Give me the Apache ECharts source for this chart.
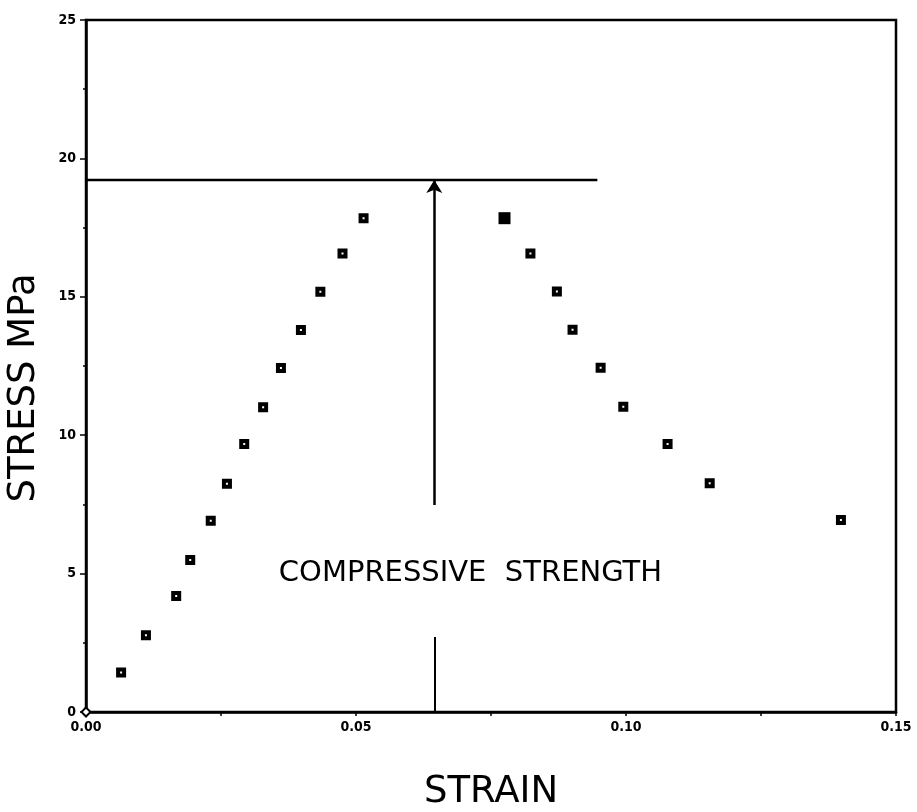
<!DOCTYPE html>
<html>
<head>
<meta charset="utf-8">
<script src="https://cdn.jsdelivr.net/npm/echarts@6/dist/echarts.min.js"></script>
<style>
html,body{margin:0;padding:0;background:#fff;}
#chart{width:917px;height:812px;}
</style>
</head>
<body>
<div id="chart"></div>
<script>
// ---- data ----
var risingStrain = [0.0065, 0.0111, 0.0167, 0.0193, 0.0231, 0.0261, 0.0293, 0.0328, 0.0361, 0.0398, 0.0434, 0.0475, 0.0514];
var risingStress = [1.43, 2.77, 4.19, 5.49, 6.91, 8.25, 9.68, 11.01, 12.43, 13.80, 15.18, 16.56, 17.84];
var fallingStrain = [0.0775, 0.0823, 0.0872, 0.0901, 0.0953, 0.0995, 0.1077, 0.1155, 0.1398];
var fallingStress = [17.84, 16.56, 15.19, 13.81, 12.44, 11.03, 9.68, 8.26, 6.94];
var originPoint = [0, 0];
var strengthLevel = 19.22;      // compressive strength (MPa)
var strengthLineEnd = 0.0947;   // horizontal line extends to this strain
var arrowStrain = 0.0645;
var arrowFrom = 7.48;
var lowerLineTop = 2.71;
var annotationText = 'COMPRESSIVE  STRENGTH';
var annotationAt = [0.0712, 5.02];
var xTicks = ['0.00', '0.05', '0.10', '0.15'];
var yTicks = [0, 5, 10, 15, 20, 25];

function pairs(xs, ys){ return xs.map(function(x,i){ return [x, ys[i]]; }); }

var chart = echarts.init(document.getElementById('chart'), null, {renderer:'canvas'});
var tickFont = {fontFamily:'DejaVu Sans Condensed, DejaVu Sans', fontWeight:'bold', fontSize:14, color:'#000'};
var risingData = pairs(risingStrain, risingStress);
var fallingData = pairs(fallingStrain, fallingStress).map(function(p,i){
  return i === 0 ? {value:p, symbolSize:12, itemStyle:{color:'#000', borderWidth:0}} : p;
});
var markerStyle = {color:'#fff', borderColor:'#000', borderWidth:4, opacity:1};

chart.setOption({
  animation:false,
  backgroundColor:'#fff',
  grid:{left:86, right:21, top:20, bottom:100, containLabel:false, outerBoundsMode:'none',
        show:true, borderColor:'#000', borderWidth:2.5},
  xAxis:{
    type:'value', min:0, max:0.15, interval:0.05,
    name:'STRAIN', nameLocation:'middle', nameGap:62,
    nameTextStyle:{fontFamily:'DejaVu Sans', fontSize:37, color:'#000'},
    axisLine:{show:true, lineStyle:{color:'#000', width:2.5}},
    axisTick:{show:true, inside:false, length:4, lineStyle:{color:'#000', width:1.5}},
    minorTick:{show:true, splitNumber:2, length:4, lineStyle:{color:'#000', width:1.5}},
    splitLine:{show:false},
    axisLabel:Object.assign({margin:8, formatter:function(v){
      var i = Math.round(v/0.05); return xTicks[i] !== undefined ? xTicks[i] : ''; }}, tickFont)
  },
  yAxis:{
    type:'value', min:0, max:25, interval:5,
    name:'STRESS MPa', nameLocation:'middle', nameGap:43, nameRotate:90,
    nameTextStyle:{fontFamily:'DejaVu Sans', fontSize:37, color:'#000', padding:[0,44,0,0]},
    axisLine:{show:true, lineStyle:{color:'#000', width:2.5}},
    axisTick:{show:true, inside:false, length:6, lineStyle:{color:'#000', width:1.5}},
    minorTick:{show:true, splitNumber:2, length:3, lineStyle:{color:'#000', width:1.5}},
    splitLine:{show:false},
    axisLabel:Object.assign({margin:10, formatter:function(v){
      return yTicks.indexOf(v) >= 0 ? String(v) : ''; }}, tickFont)
  },
  series:[
    {
      type:'scatter', name:'rising', data:risingData,
      symbol:'rect', symbolSize:6, itemStyle:markerStyle
    },
    {
      type:'scatter', name:'falling', data:fallingData,
      symbol:'rect', symbolSize:6, itemStyle:markerStyle
    },
    {
      type:'scatter', name:'origin', data:[originPoint],
      symbol:'diamond', symbolSize:9,
      itemStyle:{color:'#fff', borderColor:'#000', borderWidth:2, opacity:1}
    },
    {
      type:'line', name:'strength', data:[[0, strengthLevel],[strengthLineEnd, strengthLevel]],
      symbol:'none', lineStyle:{color:'#000', width:2.5}, z:1,
      markLine:{
        silent:true, symbol:['none','arrow'], symbolSize:[12,13], label:{show:false},
        lineStyle:{color:'#000', width:2.5, type:'solid'},
        data:[
          [{coord:[arrowStrain, arrowFrom]}, {coord:[arrowStrain, strengthLevel]}],
          [{coord:[arrowStrain, 0], symbol:'none'}, {coord:[arrowStrain, lowerLineTop], symbol:'none', lineStyle:{width:2}}]
        ]
      }
    },
    {
      type:'scatter', name:'annotation', data:[annotationAt],
      symbolSize:0, itemStyle:{opacity:1},
      label:{show:true, position:'inside', formatter:annotationText,
        fontFamily:'DejaVu Sans', fontSize:29, color:'#000'},
      silent:true
    }
  ]
});
</script>
</body>
</html>
